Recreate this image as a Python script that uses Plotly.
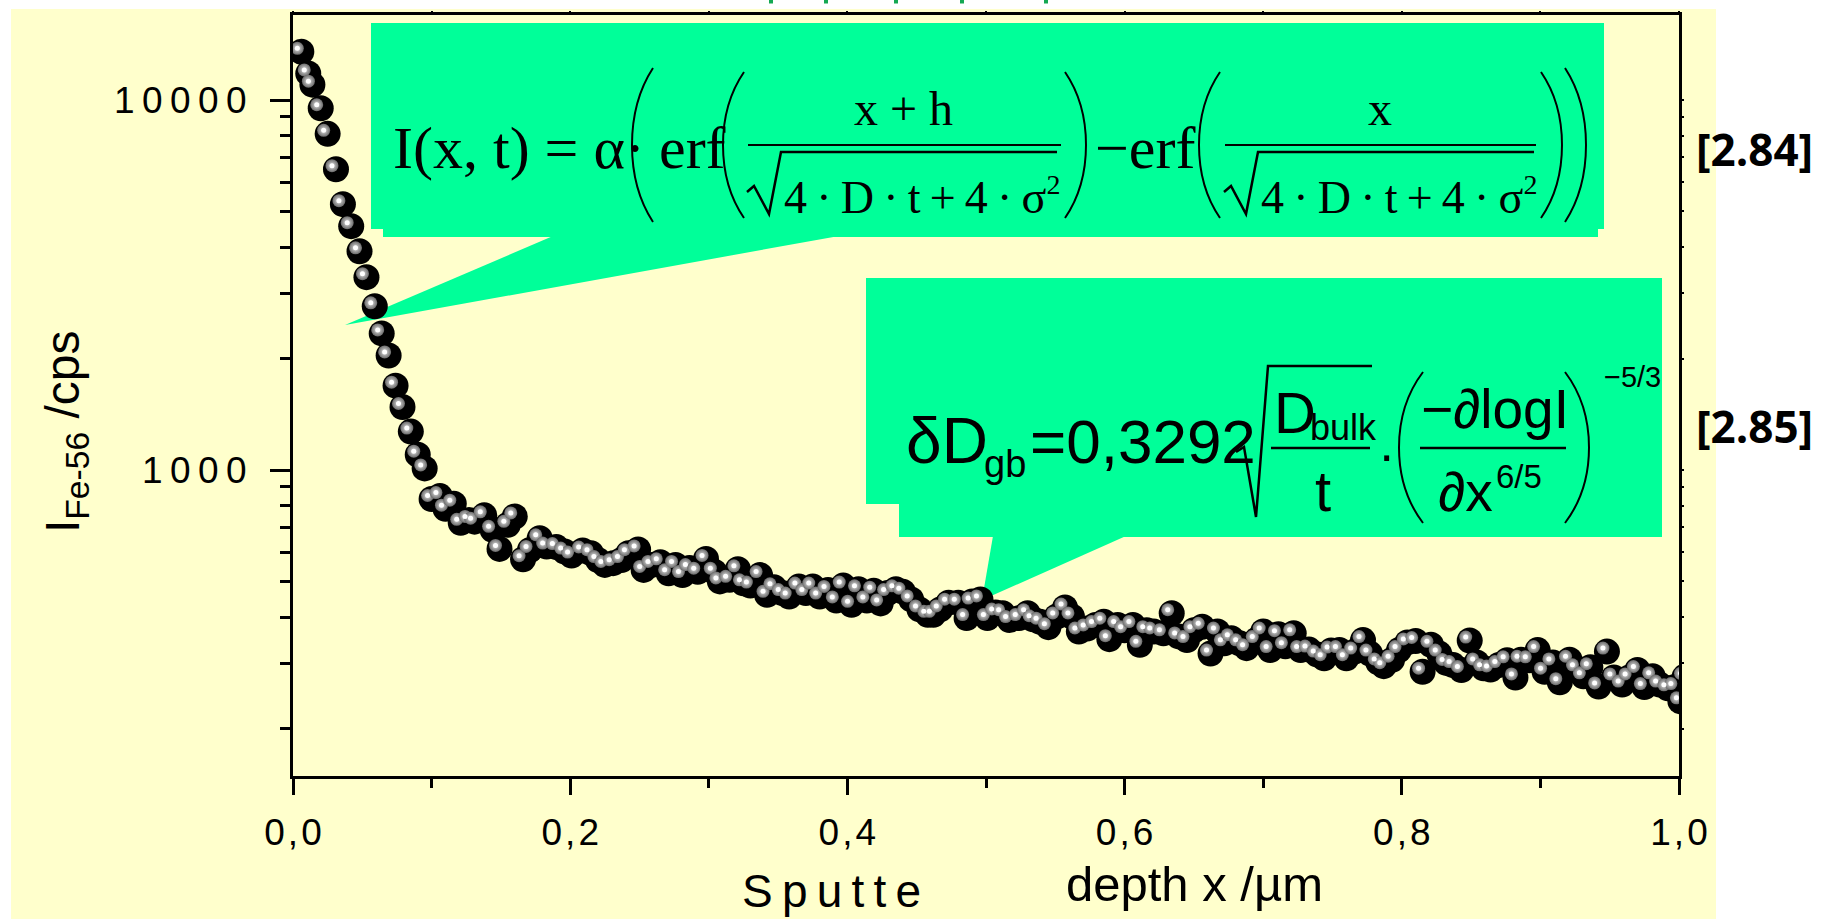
import math
import plotly.graph_objects as go

# Fe-56 SIMS depth profile (sputter depth in µm, intensity in counts per second)
depth_um = [
    0.006, 0.011, 0.014, 0.020, 0.025, 0.031, 0.036, 0.042, 0.048, 0.053,
    0.059, 0.064, 0.069, 0.074, 0.079, 0.085, 0.090, 0.095, 0.100, 0.106,
    0.110, 0.116, 0.121, 0.127, 0.131, 0.138, 0.144, 0.149, 0.155, 0.160,
    0.166, 0.171, 0.178, 0.183, 0.190, 0.196, 0.201, 0.209, 0.215, 0.220,
    0.225, 0.231, 0.237, 0.242, 0.249, 0.253, 0.259, 0.265, 0.271, 0.276,
    0.281, 0.286, 0.292, 0.298, 0.304, 0.308, 0.315, 0.321, 0.325, 0.330,
    0.337, 0.342, 0.347, 0.353, 0.358, 0.365, 0.370, 0.375, 0.380, 0.386,
    0.392, 0.397, 0.403, 0.408, 0.414, 0.419, 0.424, 0.429, 0.435, 0.440,
    0.446, 0.452, 0.458, 0.462, 0.467, 0.473, 0.480, 0.486, 0.490, 0.496,
    0.501, 0.507, 0.512, 0.517, 0.524, 0.530, 0.534, 0.539, 0.545, 0.551,
    0.557, 0.562, 0.567, 0.573, 0.579, 0.585, 0.589, 0.595, 0.600, 0.606,
    0.611, 0.616, 0.621, 0.628, 0.634, 0.639, 0.645, 0.650, 0.656, 0.662,
    0.667, 0.672, 0.677, 0.683, 0.688, 0.695, 0.700, 0.705, 0.711, 0.716,
    0.722, 0.727, 0.733, 0.739, 0.744, 0.749, 0.755, 0.760, 0.766, 0.772,
    0.777, 0.783, 0.787, 0.793, 0.798, 0.804, 0.810, 0.815, 0.821, 0.827,
    0.832, 0.837, 0.843, 0.849, 0.854, 0.859, 0.864, 0.870, 0.876, 0.882,
    0.886, 0.892, 0.898, 0.903, 0.909, 0.914, 0.921, 0.926, 0.931, 0.936,
    0.942, 0.948, 0.953, 0.959, 0.964, 0.970, 0.975, 0.981, 0.986, 0.992,
    0.997, 1.001, 1.004,
]
intensity_cps = [
    13500, 11800, 11000, 9500, 8100, 6500, 5230, 4560, 3900, 3320,
    2770, 2340, 2040, 1690, 1480, 1270, 1100, 1010, 835, 850,
    786, 811, 720, 733, 725, 754, 689, 612, 711, 749,
    574, 608, 654, 621, 619, 602, 587, 606, 596, 571,
    554, 560, 571, 596, 610, 537, 554, 563, 526, 554,
    520, 543, 531, 575, 531, 500, 505, 539, 494, 487,
    520, 460, 482, 465, 455, 484, 465, 484, 455, 474,
    444, 487, 432, 476, 444, 472, 436, 465, 476, 469,
    447, 420, 406, 406, 420, 438, 438, 398, 441, 447,
    398, 412, 410, 393, 398, 410, 395, 389, 376, 402,
    425, 402, 366, 373, 381, 389, 349, 381, 369, 381,
    337, 369, 366, 362, 410, 355, 347, 369, 377, 319,
    366, 340, 351, 340, 330, 347, 366, 326, 360, 334,
    362, 326, 327, 317, 310, 325, 326, 310, 323, 347,
    319, 302, 295, 307, 326, 342, 345, 285, 337, 319,
    301, 297, 288, 346, 302, 291, 289, 297, 306, 275,
    307, 306, 326, 285, 302, 267, 307, 291, 277, 293,
    260, 323, 275, 263, 275, 288, 259, 277, 263, 257,
    259, 237, 276,
]

x_major = [0.0, 0.2, 0.4, 0.6, 0.8, 1.0]
x_minor = [0.1, 0.3, 0.5, 0.7, 0.9]
y_major = [1000, 10000]
y_minor = [200, 300, 400, 500, 600, 700, 800, 900,
           2000, 3000, 4000, 5000, 6000, 7000, 8000, 9000]
equation_refs = ["[2.84]", "[2.85]"]

# ---- page geometry (pixels) ----
FIG_W, FIG_H = 1837, 919
L, R, T, B = 293, 1679, 15, 776
PW, PH = R - L, B - T
DECADE_PX = 370.0
Y1000_PX = 470.0
Y_LO = 3 - (B - Y1000_PX) / DECADE_PX
Y_HI = 3 + (Y1000_PX - T) / DECADE_PX

GREEN = "#00FF99"
PAPER_YELLOW = "#FFFFCC"
SERIF = "Liberation Serif"
SANS = "Liberation Sans"
THIN = "\u2009"
HAIR = "\u200a"


def px(X):
    return (X - L) / PW


def py(Y):
    return (B - Y) / PH


FONT_METRICS = {SANS: (0.905, 0.212), SERIF: (0.891, 0.216), "Open Sans": (1.069, 0.293)}


def txt(s, X, base, size, fam=SANS, anchor="left", color="black"):
    a, d = FONT_METRICS[fam]
    yc = base - (a - d) / 2 * size
    return dict(text=s, x=px(X), y=py(yc), xref="paper", yref="paper",
                xanchor=anchor, yanchor="middle", showarrow=False,
                font=dict(family=fam, size=size, color=color))


def poly(points, fill=None, width=2):
    d = "M " + " L ".join(f"{px(x):.5f},{py(y):.5f}" for x, y in points)
    if fill:
        d += " Z"
        return dict(type="path", path=d, xref="paper", yref="paper",
                    fillcolor=fill, line=dict(width=0), layer="below")
    return dict(type="path", path=d, xref="paper", yref="paper",
                line=dict(color="black", width=width), layer="above")


def rect(x0, y0, x1, y1, color, layer="below"):
    return dict(type="rect", xref="paper", yref="paper",
                x0=px(x0), x1=px(x1), y0=py(y1), y1=py(y0),
                fillcolor=color, line=dict(width=0), layer=layer)


def paren(x_end, x_bulge, y0, y1, width=2):
    h = y1 - y0
    d = (f"M {px(x_end):.5f},{py(y0):.5f} "
         f"C {px(x_bulge):.5f},{py(y0 + 0.28 * h):.5f} "
         f"{px(x_bulge):.5f},{py(y1 - 0.28 * h):.5f} "
         f"{px(x_end):.5f},{py(y1):.5f}")
    return dict(type="path", path=d, xref="paper", yref="paper",
                line=dict(color="black", width=width), layer="above")


def hline(x0, x1, y, width=2):
    return dict(type="line", xref="paper", yref="paper",
                x0=px(x0), x1=px(x1), y0=py(y), y1=py(y),
                line=dict(color="black", width=width), layer="above")


fig = go.Figure()

# sphere bodies
fig.add_trace(go.Scatter(
    x=depth_um, y=intensity_cps, mode="markers", showlegend=False,
    marker=dict(size=26, color="black", line=dict(width=0)),
    hoverinfo="skip"))
# glint halo and bright core on each sphere (twin axes shifted a few pixels up-left)
fig.add_trace(go.Scatter(
    x=depth_um, y=intensity_cps, mode="markers", showlegend=False,
    xaxis="x2", yaxis="y2",
    marker=dict(size=13, color="#6a6a6a", line=dict(width=0),
                gradient=dict(type="radial", color="#e6e6e6")),
    hoverinfo="skip"))
fig.add_trace(go.Scatter(
    x=depth_um, y=intensity_cps, mode="markers", showlegend=False,
    xaxis="x2", yaxis="y2",
    marker=dict(size=5, color="white", line=dict(width=0)),
    hoverinfo="skip"))
# carrier for top / right frame ticks
fig.add_trace(go.Scatter(x=[], y=[], xaxis="x3", yaxis="y3", showlegend=False))

shapes = []
# slide background
shapes.append(rect(11, 9, 1716, 919, PAPER_YELLOW))
# fragments of the green heading cut at the top edge
for gx in [771, 826, 896, 962, 1046]:
    shapes.append(rect(gx - 2, 0, gx + 2, 3.5, "#14A852", layer="above"))

# callout 1
shapes.append(rect(371, 23, 1604, 229, GREEN))
shapes.append(rect(383, 200, 1598, 237, GREEN))
shapes.append(poly([(553, 236), (345, 325), (839, 236)], fill=GREEN))
# callout 2
shapes.append(rect(866, 278, 1662, 504, GREEN))
shapes.append(rect(899, 480, 1662, 537, GREEN))
shapes.append(poly([(993, 536), (982, 600), (1126, 536)], fill=GREEN))

ann = []

# ---- formula 1 ----
SUP2 = "<sup><span style='font-size:28px'>2</span></sup>"
denom = THIN.join(["4", "·", "D", "·", "t", "+", "4", "·", "σ"]) + SUP2
ann.append(txt("I(x, t) = α·", 391, 168, 60, SERIF))
shapes.append(paren(653, 625, 68, 222))
ann.append(txt("erf", 657, 168, 60, SERIF))
shapes.append(paren(744, 716, 72, 218))
ann.append(txt("x + h", 903, 125, 48, SERIF, anchor="center"))
shapes.append(hline(748, 1061, 145))
shapes.append(poly([(747, 192), (754, 186), (769, 214), (781, 152), (1057, 152)], width=2.5))
ann.append(txt(denom, 782, 212, 46, SERIF))
shapes.append(paren(1065, 1093, 72, 218))
ann.append(txt("−erf", 1093, 168, 60, SERIF))
shapes.append(paren(1220, 1192, 72, 218))
ann.append(txt("x", 1380, 125, 48, SERIF, anchor="center"))
shapes.append(hline(1225, 1536, 145))
shapes.append(poly([(1224, 192), (1231, 186), (1246, 214), (1258, 152), (1534, 152)], width=2.5))
ann.append(txt(denom, 1259, 212, 46, SERIF))
shapes.append(paren(1541, 1569, 72, 218))
shapes.append(paren(1565, 1593, 68, 222))

# ---- formula 2 ----
ann.append(txt("δD", 904, 463, 64))
ann.append(txt("gb", 982, 477, 38))
ann.append(txt("=0,3292", 1028, 463, 62))
shapes.append(poly([(1236, 452), (1244, 447), (1256, 517), (1268, 366), (1372, 366)], width=2.5))
ann.append(txt("D", 1272, 433, 58))
ann.append(txt("bulk", 1308, 440, 36))
shapes.append(hline(1271, 1370, 448, width=2.5))
ann.append(txt("t", 1323, 511, 58, anchor="center"))
ann.append(txt("·", 1386, 472, 52, anchor="center"))
shapes.append(paren(1423, 1391, 372, 523))
ann.append(txt("−∂logI", 1419, 428, 55))
shapes.append(hline(1420, 1566, 448, width=2.5))
ann.append(txt("∂x", 1436, 511, 55))
ann.append(txt("6/5", 1494, 488, 33))
shapes.append(paren(1565, 1597, 372, 523))
ann.append(txt("−5/3", 1602, 387, 29))

# ---- equation numbers ----
for ref, base in zip(equation_refs, [166, 443]):
    ann.append(txt(f"<b>{ref}</b>", 1694, base, 44, "Open Sans"))

# ---- axis titles ----
ann.append(dict(text="I<sub>Fe-56</sub> /cps", x=px(66), y=py(432), xref="paper",
                yref="paper", xanchor="center", yanchor="middle", textangle=-90,
                showarrow=False, font=dict(family=SANS, size=48, color="black")))
ann.append(txt(THIN.join("Sputte"), 740, 907, 46))
ann.append(txt("depth x /µm", 1064, 901, 49))

glint_dx = 4.0 / PW
glint_dy = 3.5 / DECADE_PX

fig.update_layout(
    width=FIG_W, height=FIG_H, autosize=False,
    margin=dict(l=L, r=FIG_W - R, t=T, b=FIG_H - B, pad=0),
    paper_bgcolor="white", plot_bgcolor="rgba(0,0,0,0)",
    xaxis=dict(
        range=[0, 1], showgrid=False, zeroline=False,
        showline=True, linecolor="black", linewidth=3, mirror=True,
        tickvals=x_major,
        ticktext=[HAIR.join(f"{v:.1f}".replace(".", ",")) for v in x_major],
        ticks="outside", ticklen=16, tickwidth=3, tickcolor="black",
        ticklabelstandoff=6,
        tickfont=dict(family=SANS, size=37, color="black"),
        minor=dict(tickvals=x_minor, ticks="outside", ticklen=9, tickwidth=2.5,
                   tickcolor="black"),
    ),
    yaxis=dict(
        type="log", range=[Y_LO, Y_HI], showgrid=False, zeroline=False,
        showline=True, linecolor="black", linewidth=3, mirror=True,
        tickvals=y_major, ticktext=[THIN.join(str(v)) for v in y_major],
        ticks="outside", ticklen=20, tickwidth=3, tickcolor="black",
        ticklabelstandoff=16,
        tickfont=dict(family=SANS, size=37, color="black"),
        minor=dict(tickvals=y_minor, ticks="outside", ticklen=10, tickwidth=2.5,
                   tickcolor="black"),
    ),
    xaxis2=dict(overlaying="x", anchor="y2", visible=False,
                range=[glint_dx, 1 + glint_dx]),
    yaxis2=dict(overlaying="y", anchor="x2", visible=False, type="log",
                range=[Y_LO - glint_dy, Y_HI - glint_dy]),
    xaxis3=dict(overlaying="x", anchor="y", side="top", range=[0, 1],
                showgrid=False, zeroline=False, showline=False,
                tickvals=x_major + x_minor, showticklabels=False,
                ticks="outside", ticklen=3, tickwidth=2, tickcolor="black"),
    yaxis3=dict(overlaying="y", anchor="x", side="right", type="log",
                range=[Y_LO, Y_HI], showgrid=False, zeroline=False, showline=False,
                tickvals=y_major + y_minor, showticklabels=False,
                ticks="outside", ticklen=4, tickwidth=2, tickcolor="black"),
    shapes=shapes,
    annotations=ann,
)

fig.write_html("out.html")
